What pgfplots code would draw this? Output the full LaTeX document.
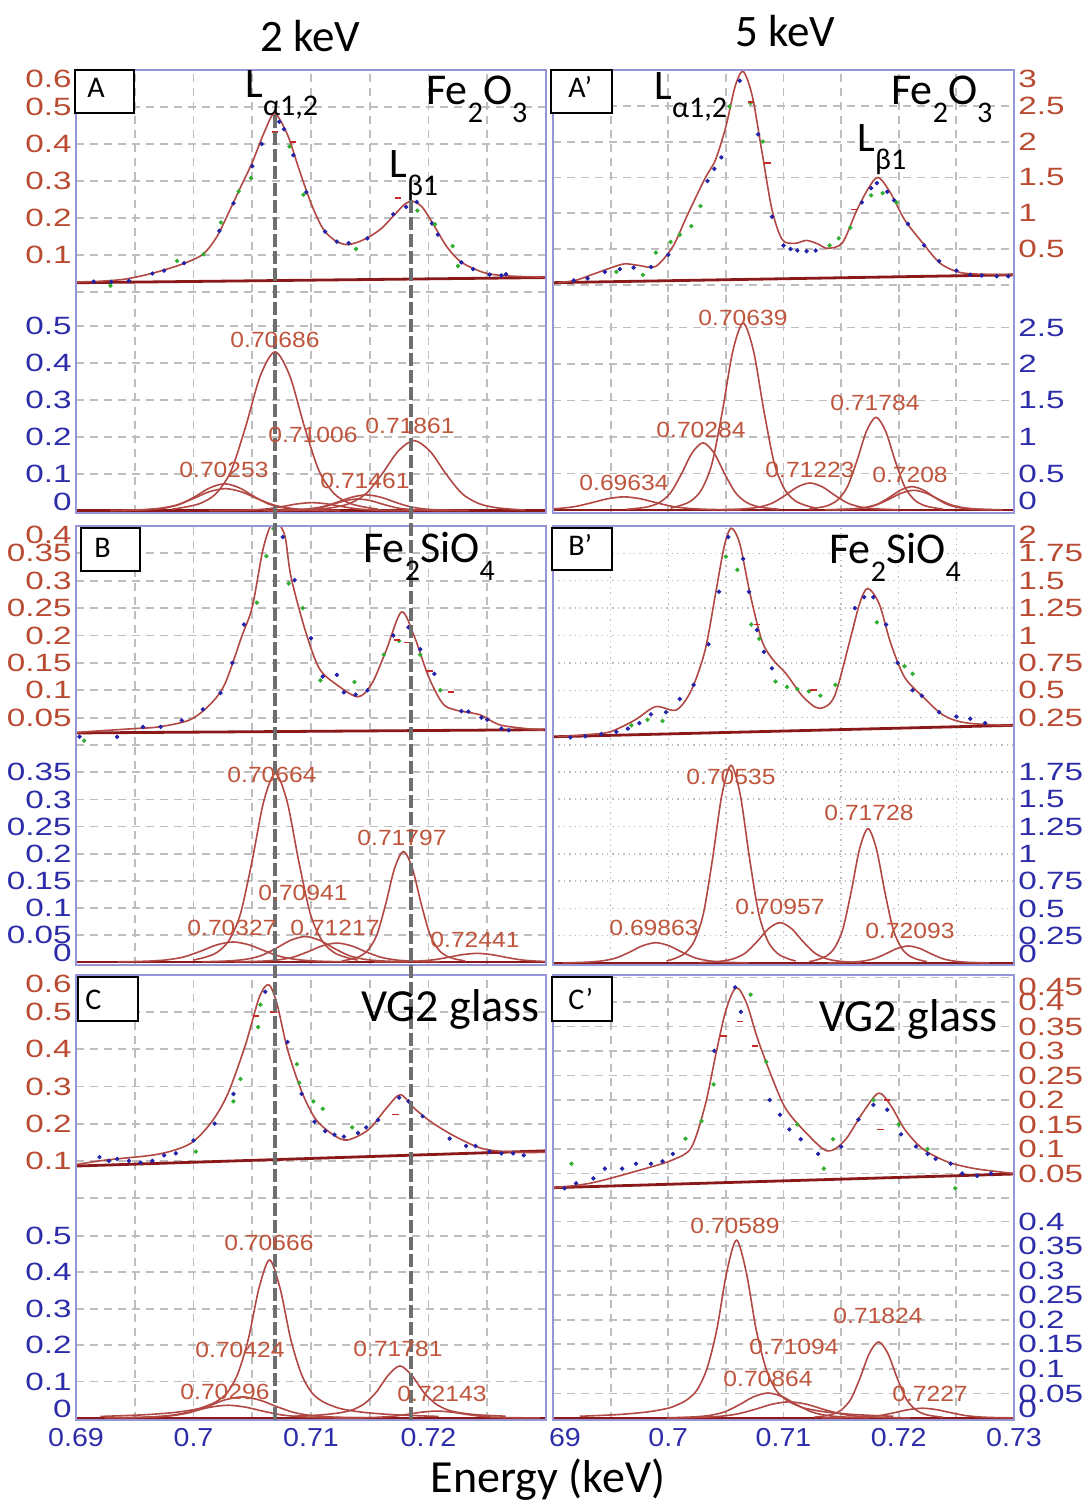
\documentclass[border=0pt]{standalone}
\usepackage{fontspec}
\setmainfont{Carlito}
\newfontfamily\tickfam[FakeStretch=1.33]{Liberation Sans}
\newfontfamily\xtickfam[FakeStretch=1.1]{Liberation Sans}
\newfontfamily\peakfam[FakeStretch=1.12]{Liberation Sans}
\usepackage{pgfplots}
\pgfplotsset{compat=1.18}

\definecolor{fitred}{RGB}{178,72,68}
\definecolor{basered}{RGB}{140,25,25}
\definecolor{dotblue}{RGB}{35,35,170}
\definecolor{dotgreen}{RGB}{50,175,50}
\definecolor{dotred}{RGB}{200,40,40}
\definecolor{gridc}{RGB}{190,190,190}
\definecolor{framec}{RGB}{150,150,215}
\definecolor{brownlab}{RGB}{185,75,50}
\definecolor{bluelab}{RGB}{45,45,170}
\definecolor{peakc}{RGB}{190,85,60}
\definecolor{dashc}{RGB}{110,110,110}

\newcommand\lsub[1]{\raisebox{-9pt}{\fontsize{15}{15}\selectfont #1}}

\pgfplotsset{
  pane/.style={scale only axis, xmin=0.69, xmax=0.73,
    axis line style={draw=none}, major tick length=0pt,
    xtick={0.69,0.695,0.7,0.705,0.71,0.715,0.72,0.725,0.73},
    xticklabels={},
    grid=major,
    major grid style={draw=gridc, line width=0.9pt, dash pattern=on 4pt off 3pt},
    yticklabel style={font=\tickfam\fontsize{12.5}{13}\selectfont, inner xsep=2pt},
    xticklabel style={font=\xtickfam\fontsize{13}{14}\selectfont, text=bluelab, inner ysep=4pt},
  },
  L/.style={pane, width=235pt, ytick pos=left},
  R/.style={pane, width=230.5pt, ytick pos=right, yticklabel pos=right},
  top/.style={yticklabel style={text=brownlab}},
  bot/.style={yticklabel style={text=bluelab}},
  % topmost label of an upper pane sits a little lower, the 0 of a lower pane a little higher
  toplab/.style 2 args={extra y ticks={#1}, extra y tick labels={#2},
    extra y tick style={grid=major, yticklabel style={yshift=-4.5pt}}},
  zerolab/.style={extra y ticks={0}, extra y tick labels={0},
    extra y tick style={grid=major, yticklabel style={yshift=4.5pt}}},
  fit/.style={draw=fitred, line width=0.8pt, smooth, no markers},
  comp/.style={draw=fitred, line width=0.8pt, smooth, no markers},
  base/.style={draw=basered, line width=1.4pt, no markers},
  bd/.style={only marks, color=dotblue, mark=*, mark size=0.9pt},
  gd/.style={only marks, color=dotgreen, mark=*, mark size=0.9pt},
  rd/.style={only marks, color=dotred, mark=-, mark size=1.6pt, mark options={line width=0.8pt}},
}

\begin{document}
\begin{tikzpicture}
\path[use as bounding box] (0,0) rectangle (544.5pt,-751pt);

% ================= A (2 keV) =================
\begin{axis}[L, top, at={(38pt,-146pt)}, anchor=south west, height=111pt,
  ymin=0, ymax=0.6, ytick={0,0.1,0.2,0.3,0.4,0.5}, yticklabels={,0.1,0.2,0.3,0.4,0.5}, toplab={0.6}{0.6}]
\addplot[base] coordinates {(0.69,0.025) (0.73,0.039)};
\addplot[fit] coordinates {(0.690,0.027) (0.692,0.029) (0.694,0.034) (0.6955,0.043) (0.697,0.055) (0.699,0.075) (0.7008,0.102) (0.702,0.150) (0.703,0.215) (0.704,0.283) (0.705,0.350) (0.706,0.430) (0.7069,0.482) (0.708,0.425) (0.709,0.330) (0.710,0.240) (0.711,0.172) (0.712,0.140) (0.713,0.128) (0.714,0.135) (0.715,0.150) (0.716,0.172) (0.717,0.205) (0.718,0.238) (0.7187,0.245) (0.7195,0.228) (0.7205,0.178) (0.7215,0.125) (0.7225,0.088) (0.7235,0.068) (0.725,0.050) (0.727,0.043) (0.730,0.040)};
\addplot[bd] coordinates {(0.6915,0.028) (0.6930,0.027) (0.6945,0.03) (0.6965,0.05) (0.6975,0.058) (0.6992,0.078) (0.7022,0.165) (0.7034,0.24) (0.7050,0.34) (0.7058,0.4) (0.7073,0.46) (0.7077,0.44) (0.7085,0.37) (0.7096,0.27) (0.7112,0.163) (0.7122,0.136) (0.7132,0.132) (0.7148,0.145) (0.7170,0.21) (0.7181,0.23) (0.7190,0.243) (0.7203,0.185) (0.7208,0.155) (0.7228,0.08) (0.7238,0.062) (0.7252,0.047) (0.7262,0.045) (0.7266,0.048)};
\addplot[gd] coordinates {(0.69294,0.017) (0.6986,0.084) (0.70085,0.102) (0.70234,0.188) (0.70384,0.272) (0.70489,0.308) (0.70817,0.393) (0.70936,0.263) (0.71383,0.116) (0.71906,0.22) (0.72055,0.183) (0.72205,0.124) (0.72251,0.07)};
\addplot[rd] coordinates {(0.7174,0.254) (0.70694,0.433) (0.70847,0.406)};
\end{axis}

\begin{axis}[L, bot, at={(38pt,-256.5pt)}, anchor=south west, height=110.5pt,
  ymin=-0.006, ymax=0.592, ytick={0.1,0.2,0.3,0.4,0.5}, yticklabels={0.1,0.2,0.3,0.4,0.5}, zerolab]
\addplot[base] coordinates {(0.69,0) (0.73,0)};
\addplot[comp] coordinates {(0.69390,0.0007) (0.69515,0.0018) (0.69640,0.0037) (0.69765,0.0080) (0.69890,0.0183) (0.70015,0.0387) (0.70140,0.0621) (0.70265,0.0730) (0.70390,0.0621) (0.70515,0.0387) (0.70640,0.0183) (0.70765,0.0080) (0.70890,0.0037) (0.71015,0.0018) (0.71140,0.0007)};
\addplot[comp] coordinates {(0.6929,0.0006) (0.6943,0.0015) (0.6957,0.003) (0.6971,0.0066) (0.6985,0.015) (0.6999,0.0318) (0.7013,0.051) (0.7027,0.06) (0.7041,0.051) (0.7055,0.0318) (0.7069,0.015) (0.7083,0.0066) (0.7097,0.003) (0.7111,0.0015) (0.7125,0.0006)};
\addplot[comp] coordinates {(0.69819,0.0043) (0.69944,0.0108) (0.70069,0.0215) (0.70194,0.0473) (0.70319,0.1075) (0.70444,0.2279) (0.70569,0.3655) (0.70694,0.43) (0.70819,0.3655) (0.70944,0.2279) (0.71069,0.1075) (0.71194,0.0473) (0.71319,0.0215) (0.71444,0.0108) (0.71569,0.0043)};
\addplot[comp] coordinates {(0.70135,0.0002) (0.7026,0.0006) (0.70385,0.0011) (0.7051,0.0024) (0.70635,0.0055) (0.7076,0.0117) (0.70885,0.0187) (0.7101,0.022) (0.71135,0.0187) (0.7126,0.0117) (0.71385,0.0055) (0.7151,0.0024) (0.71635,0.0011) (0.7176,0.0006) (0.71885,0.0002)};
\addplot[comp] coordinates {(0.70595,0.0004) (0.7072,0.0011) (0.70845,0.0022) (0.7097,0.0047) (0.71095,0.0108) (0.7122,0.0228) (0.71345,0.0366) (0.7147,0.043) (0.71595,0.0366) (0.7172,0.0228) (0.71845,0.0108) (0.7197,0.0047) (0.72095,0.0022) (0.7222,0.0011) (0.72345,0.0004)};
\addplot[comp] coordinates {(0.7063,0.0003) (0.7074,0.0008) (0.7085,0.0016) (0.7096,0.0035) (0.7107,0.008) (0.7118,0.017) (0.7129,0.0272) (0.714,0.032) (0.7151,0.0272) (0.7162,0.017) (0.7173,0.008) (0.7184,0.0035) (0.7195,0.0016) (0.7206,0.0008) (0.7217,0.0003)};
\addplot[comp] coordinates {(0.70932,0.0019) (0.71067,0.0048) (0.71202,0.0095) (0.71337,0.0209) (0.71472,0.0475) (0.71607,0.1007) (0.71742,0.1615) (0.71877,0.19) (0.72012,0.1615) (0.72147,0.1007) (0.72282,0.0475) (0.72417,0.0209) (0.72552,0.0095) (0.72687,0.0048) (0.72822,0.0019)};
\end{axis}

% ================= A' (5 keV) =================
\begin{axis}[R, top, at={(276.5pt,-146pt)}, anchor=south west, height=111pt,
  ymin=-0.1, ymax=3, ytick={0,0.5,1,1.5,2,2.5}, yticklabels={,0.5,1,1.5,2,2.5}, toplab={3}{3}]
\addplot[base] coordinates {(0.69,0.03) (0.73,0.14)};
\addplot[fit] coordinates {(0.6904,0.032) (0.6919,0.06) (0.6935,0.15) (0.69495,0.233) (0.6962,0.293) (0.6975,0.27) (0.6989,0.256) (0.7004,0.535) (0.7016,0.954) (0.7032,1.49) (0.7041,1.746) (0.7050,2.21) (0.7058,2.77) (0.7065,2.98) (0.7073,2.63) (0.7081,1.885) (0.7090,1.05) (0.7099,0.63) (0.7110,0.58) (0.7120,0.62) (0.7130,0.57) (0.7138,0.51) (0.7151,0.585) (0.7163,1.02) (0.7173,1.33) (0.7182,1.50) (0.7193,1.28) (0.7205,0.91) (0.7221,0.58) (0.7236,0.30) (0.7254,0.17) (0.7280,0.145) (0.7300,0.14)};
\addplot[bd] coordinates {(0.6918,0.06) (0.6930,0.09) (0.6945,0.18) (0.6958,0.22) (0.6970,0.24) (0.6985,0.25) (0.7000,0.42) (0.7034,1.45) (0.7040,1.62) (0.7046,1.78) (0.7062,2.85) (0.7078,2.1) (0.7090,0.95) (0.7100,0.55) (0.7106,0.50) (0.7112,0.48) (0.7120,0.47) (0.7128,0.48) (0.7168,1.15) (0.7176,1.35) (0.7181,1.42) (0.7190,1.3) (0.7196,1.18) (0.7208,0.85) (0.7222,0.55) (0.7235,0.33) (0.7250,0.2) (0.7262,0.14) (0.7272,0.13) (0.7285,0.12) (0.7295,0.12)};
\addplot[gd] coordinates {(0.6955,0.18) (0.6978,0.14) (0.69892,0.45) (0.7002,0.6) (0.7010,0.7) (0.7020,0.82) (0.7028,1.1) (0.70532,2.49) (0.70714,2.54) (0.7082,2.0) (0.7140,0.55) (0.7148,0.65) (0.7158,0.8) (0.7176,1.25) (0.7186,1.28) (0.7198,1.15)};
\addplot[rd] coordinates {(0.7086,1.7) (0.7161,1.05) (0.7072,2.55)};
\end{axis}

\begin{axis}[R, bot, at={(276.5pt,-256.5pt)}, anchor=south west, height=110.5pt,
  ymin=-0.041, ymax=2.986, ytick={0.5,1,1.5,2,2.5}, yticklabels={0.5,1,1.5,2,2.5}, zerolab]
\addplot[base] coordinates {(0.69,0) (0.73,0)};
\addplot[comp] coordinates {(0.68601,0.0018) (0.68746,0.0045) (0.68891,0.009) (0.69036,0.0198) (0.69181,0.045) (0.69326,0.0954) (0.69471,0.153) (0.69616,0.18) (0.69761,0.153) (0.69906,0.0954) (0.70051,0.045) (0.70196,0.0198) (0.70341,0.009) (0.70486,0.0045) (0.70631,0.0018)};
\addplot[comp] coordinates {(0.69637,0.0092) (0.69732,0.023) (0.69827,0.046) (0.69922,0.1012) (0.70017,0.23) (0.70112,0.4876) (0.70207,0.782) (0.70302,0.92) (0.70397,0.782) (0.70492,0.4876) (0.70587,0.23) (0.70682,0.1012) (0.70777,0.046) (0.70872,0.023) (0.70967,0.0092)};
\addplot[comp] coordinates {(0.7002,0.0256) (0.7011,0.064) (0.702,0.128) (0.7029,0.2816) (0.7038,0.64) (0.7047,1.3568) (0.7056,2.176) (0.7065,2.56) (0.7074,2.176) (0.7083,1.3568) (0.7092,0.64) (0.7101,0.2816) (0.711,0.128) (0.7119,0.064) (0.7128,0.0256)};
\addplot[comp] coordinates {(0.7046,0.0037) (0.7057,0.0093) (0.7068,0.0185) (0.7079,0.0407) (0.709,0.0925) (0.7101,0.1961) (0.7112,0.3145) (0.7123,0.37) (0.7134,0.3145) (0.7145,0.1961) (0.7156,0.0925) (0.7167,0.0407) (0.7178,0.0185) (0.7189,0.0093) (0.72,0.0037)};
\addplot[comp] coordinates {(0.71222,0.0127) (0.71305,0.0318) (0.71388,0.0635) (0.71471,0.1397) (0.71554,0.3175) (0.71637,0.6731) (0.7172,1.0795) (0.71803,1.27) (0.71886,1.0795) (0.71969,0.6731) (0.72052,0.3175) (0.72135,0.1397) (0.72218,0.0635) (0.72301,0.0318) (0.72384,0.0127)};
\addplot[comp] coordinates {(0.71415,0.0032) (0.71515,0.008) (0.71615,0.016) (0.71715,0.0352) (0.71815,0.08) (0.71915,0.1696) (0.72015,0.272) (0.72115,0.32) (0.72215,0.272) (0.72315,0.1696) (0.72415,0.08) (0.72515,0.0352) (0.72615,0.016) (0.72715,0.008) (0.72815,0.0032)};
\addplot[comp] coordinates {(0.7136,0.0027) (0.7147,0.0068) (0.7158,0.0135) (0.7169,0.0297) (0.718,0.0675) (0.7191,0.1431) (0.7202,0.2295) (0.7213,0.27) (0.7224,0.2295) (0.7235,0.1431) (0.7246,0.0675) (0.7257,0.0297) (0.7268,0.0135) (0.7279,0.0068) (0.729,0.0027)};
\end{axis}

% ================= B (2 keV) =================
\begin{axis}[L, top, at={(38pt,-372.5pt)}, anchor=south west, height=109.5pt,
  ymin=0, ymax=0.4, ytick={0,0.05,0.1,0.15,0.2,0.25,0.3,0.35}, yticklabels={,0.05,0.1,0.15,0.2,0.25,0.3,0.35}, toplab={0.4}{0.4}]
\addplot[base] coordinates {(0.69,0.022) (0.73,0.028)};
\addplot[fit] coordinates {(0.6900,0.022) (0.6907,0.024) (0.6950,0.030) (0.6970,0.033) (0.6997,0.046) (0.7015,0.076) (0.7027,0.113) (0.7041,0.198) (0.7050,0.252) (0.7059,0.356) (0.7066,0.402) (0.7072,0.405) (0.7078,0.38) (0.7083,0.307) (0.7095,0.210) (0.7107,0.140) (0.7122,0.110) (0.7140,0.088) (0.7152,0.113) (0.7164,0.173) (0.7177,0.243) (0.7188,0.198) (0.7200,0.125) (0.7212,0.076) (0.7223,0.064) (0.7244,0.055) (0.7262,0.036) (0.7298,0.027)};
\addplot[bd] coordinates {(0.6903,0.015) (0.6935,0.015) (0.6957,0.033) (0.6972,0.033) (0.6990,0.045) (0.7008,0.065) (0.7023,0.095) (0.7033,0.15) (0.7043,0.22) (0.7076,0.38) (0.70861,0.301) (0.7100,0.195) (0.7110,0.125) (0.7122,0.128) (0.7128,0.096) (0.7138,0.092) (0.7148,0.1) (0.7170,0.2) (0.7183,0.215) (0.7193,0.175) (0.7205,0.13) (0.7228,0.062) (0.7234,0.061) (0.7245,0.05) (0.7250,0.046) (0.7262,0.03) (0.72683,0.027)};
\addplot[gd] coordinates {(0.6907,0.008) (0.7054,0.26) (0.7062,0.345) (0.7068,0.395) (0.7081,0.295) (0.7093,0.25) (0.7108,0.118) (0.7137,0.115) (0.7162,0.165) (0.7175,0.19) (0.7193,0.165) (0.7210,0.1)};
\addplot[rd] coordinates {(0.7173,0.192) (0.7182,0.187) (0.7201,0.135) (0.7219,0.097)};
\end{axis}

\begin{axis}[L, bot, at={(38pt,-482.5pt)}, anchor=south west, height=110pt,
  ymin=-0.0055, ymax=0.4004, ytick={0.05,0.1,0.15,0.2,0.25,0.3,0.35}, yticklabels={0.05,0.1,0.15,0.2,0.25,0.3,0.35}, zerolab]
\addplot[base] coordinates {(0.69,0) (0.73,0)};
\addplot[comp] coordinates {(0.69356,0.0004) (0.69496,0.0009) (0.69636,0.0019) (0.69776,0.0041) (0.69916,0.0093) (0.70056,0.0196) (0.70196,0.0315) (0.70336,0.037) (0.70476,0.0315) (0.70616,0.0196) (0.70756,0.0093) (0.70896,0.0041) (0.71036,0.0019) (0.71176,0.0009) (0.71316,0.0004)};
\addplot[comp] coordinates {(0.69997,0.0035) (0.70097,0.0087) (0.70197,0.0174) (0.70297,0.0383) (0.70397,0.087) (0.70497,0.1844) (0.70597,0.2958) (0.70697,0.348) (0.70797,0.2958) (0.70897,0.1844) (0.70997,0.087) (0.71097,0.0383) (0.71197,0.0174) (0.71297,0.0087) (0.71397,0.0035)};
\addplot[comp] coordinates {(0.70075,0.0005) (0.702,0.0012) (0.70325,0.0024) (0.7045,0.0052) (0.70575,0.0118) (0.707,0.0249) (0.70825,0.04) (0.7095,0.047) (0.71075,0.04) (0.712,0.0249) (0.71325,0.0118) (0.7145,0.0052) (0.71575,0.0024) (0.717,0.0012) (0.71825,0.0005)};
\addplot[comp] coordinates {(0.70345,0.0004) (0.7047,0.0009) (0.70595,0.0018) (0.7072,0.0039) (0.70845,0.0088) (0.7097,0.0186) (0.71095,0.0298) (0.7122,0.035) (0.71345,0.0298) (0.7147,0.0186) (0.71595,0.0088) (0.7172,0.0039) (0.71845,0.0018) (0.7197,0.0009) (0.72095,0.0004)};
\addplot[comp] coordinates {(0.71262,0.002) (0.71337,0.0051) (0.71412,0.0102) (0.71487,0.0224) (0.71562,0.051) (0.71637,0.1081) (0.71712,0.1734) (0.71787,0.204) (0.71862,0.1734) (0.71937,0.1081) (0.72012,0.051) (0.72087,0.0224) (0.72162,0.0102) (0.72237,0.0051) (0.72312,0.002)};
\addplot[comp] coordinates {(0.71538,0.0002) (0.71663,0.0004) (0.71788,0.0008) (0.71913,0.0018) (0.72038,0.004) (0.72163,0.0085) (0.72288,0.0136) (0.72413,0.016) (0.72538,0.0136) (0.72663,0.0085) (0.72788,0.004) (0.72913,0.0018) (0.73038,0.0008)};
\end{axis}

% ================= B' (5 keV) =================
\begin{axis}[R, top, at={(276.5pt,-372.5pt)}, anchor=south west, height=109.5pt,
  major grid style={draw=gridc, line width=0.7pt, dotted},
  ymin=0, ymax=2, ytick={0,0.25,0.5,0.75,1,1.25,1.5,1.75}, yticklabels={,0.25,0.5,0.75,1,1.25,1.5,1.75}, toplab={2}{2}]
\addplot[base] coordinates {(0.69,0.075) (0.73,0.18)};
\addplot[fit] coordinates {(0.6904,0.076) (0.6930,0.095) (0.69495,0.12) (0.6971,0.228) (0.6989,0.35) (0.7007,0.32) (0.7020,0.50) (0.7032,0.867) (0.7041,1.38) (0.70485,1.81) (0.70545,1.98) (0.7062,1.84) (0.7071,1.38) (0.7081,0.96) (0.7090,0.79) (0.7102,0.654) (0.7117,0.44) (0.7131,0.335) (0.7144,0.44) (0.7157,0.93) (0.7166,1.29) (0.7173,1.43) (0.7183,1.29) (0.7193,0.93) (0.7205,0.62) (0.7221,0.44) (0.7239,0.27) (0.7260,0.20) (0.7303,0.175)};
\addplot[bd] coordinates {(0.6915,0.07) (0.6928,0.08) (0.6942,0.1) (0.6955,0.12) (0.6965,0.15) (0.6975,0.2) (0.6985,0.28) (0.6998,0.3) (0.7010,0.42) (0.7022,0.55) (0.7035,0.92) (0.7044,1.4) (0.7052,1.9) (0.7065,1.7) (0.7070,1.4) (0.7077,1.05) (0.7083,0.85) (0.7090,0.7) (0.7162,1.25) (0.7170,1.35) (0.7178,1.35) (0.7189,1.1) (0.7199,0.75) (0.7212,0.50) (0.7220,0.45) (0.7235,0.3) (0.7250,0.26) (0.7262,0.24) (0.7275,0.2)};
\addplot[gd] coordinates {(0.6968,0.18) (0.6982,0.23) (0.6995,0.22) (0.7050,1.72) (0.7060,1.6) (0.7072,1.1) (0.7079,0.97) (0.7093,0.58) (0.7103,0.53) (0.7112,0.51) (0.7122,0.49) (0.7132,0.45) (0.7145,0.55) (0.7181,1.12) (0.7205,0.72) (0.7212,0.65)};
\addplot[rd] coordinates {(0.7077,1.1) (0.7126,0.5)};
\end{axis}

\begin{axis}[R, bot, at={(276.5pt,-482.5pt)}, anchor=south west, height=110pt,
  major grid style={draw=gridc, line width=0.7pt, dotted},
  ymin=-0.018, ymax=1.996, ytick={0.25,0.5,0.75,1,1.25,1.5,1.75}, yticklabels={0.25,0.5,0.75,1,1.25,1.5,1.75}, zerolab]
\addplot[base] coordinates {(0.69,0) (0.73,0)};
\addplot[comp] coordinates {(0.69087,0.0019) (0.69202,0.0047) (0.69317,0.0093) (0.69432,0.0205) (0.69547,0.0465) (0.69662,0.0986) (0.69777,0.1581) (0.69892,0.186) (0.70007,0.1581) (0.70122,0.0986) (0.70237,0.0465) (0.70352,0.0205) (0.70467,0.0093) (0.70582,0.0047) (0.70697,0.0019)};
\addplot[comp] coordinates {(0.69985,0.0181) (0.70065,0.0453) (0.70145,0.0905) (0.70225,0.1991) (0.70305,0.4525) (0.70385,0.9593) (0.70465,1.5385) (0.70545,1.81) (0.70625,1.5385) (0.70705,0.9593) (0.70785,0.4525) (0.70865,0.1991) (0.70945,0.0905) (0.71025,0.0453) (0.71105,0.0181)};
\addplot[comp] coordinates {(0.7027,0.0037) (0.7037,0.0093) (0.7047,0.0185) (0.7057,0.0407) (0.7067,0.0925) (0.7077,0.1961) (0.7087,0.3145) (0.7097,0.37) (0.7107,0.3145) (0.7117,0.1961) (0.7127,0.0925) (0.7137,0.0407) (0.7147,0.0185) (0.7157,0.0093) (0.7167,0.0037)};
\addplot[comp] coordinates {(0.71222,0.0123) (0.71295,0.0308) (0.71368,0.0615) (0.71441,0.1353) (0.71514,0.3075) (0.71587,0.6519) (0.7166,1.0455) (0.71733,1.23) (0.71806,1.0455) (0.71879,0.6519) (0.71952,0.3075) (0.72025,0.1353) (0.72098,0.0615) (0.72171,0.0308) (0.72244,0.0123)};
\addplot[comp] coordinates {(0.71384,0.0016) (0.71484,0.0039) (0.71584,0.0078) (0.71684,0.0172) (0.71784,0.039) (0.71884,0.0827) (0.71984,0.1326) (0.72084,0.156) (0.72184,0.1326) (0.72284,0.0827) (0.72384,0.039) (0.72484,0.0172) (0.72584,0.0078) (0.72684,0.0039) (0.72784,0.0016)};
\end{axis}

% ================= C (2 keV) =================
\begin{axis}[L, top, at={(38pt,-599pt)}, anchor=south west, height=111.5pt,
  ymin=0, ymax=0.6, ytick={0,0.1,0.2,0.3,0.4,0.5}, yticklabels={,0.1,0.2,0.3,0.4,0.5}, toplab={0.6}{0.6}]
\addplot[base] coordinates {(0.69,0.086) (0.73,0.127)};
\addplot[fit] coordinates {(0.6900,0.090) (0.6925,0.102) (0.6970,0.118) (0.6997,0.146) (0.7015,0.203) (0.7029,0.279) (0.7044,0.410) (0.7056,0.540) (0.7064,0.574) (0.7071,0.523) (0.7080,0.400) (0.7092,0.287) (0.7104,0.212) (0.7119,0.170) (0.7131,0.156) (0.7149,0.184) (0.7164,0.241) (0.7176,0.278) (0.7188,0.241) (0.7203,0.203) (0.7223,0.165) (0.7247,0.132) (0.7277,0.123) (0.7300,0.123)};
\addplot[bd] coordinates {(0.6920,0.11) (0.6928,0.1) (0.6935,0.105) (0.6945,0.1) (0.6955,0.095) (0.6965,0.1) (0.6975,0.115) (0.6985,0.12) (0.7000,0.155) (0.7018,0.2) (0.7034,0.28) (0.7061,0.555) (0.7080,0.42) (0.7092,0.28) (0.7103,0.205) (0.7112,0.18) (0.7120,0.17) (0.7128,0.165) (0.7140,0.175) (0.7147,0.19) (0.7157,0.21) (0.7175,0.27) (0.7183,0.26) (0.7195,0.22) (0.7218,0.16) (0.7232,0.14) (0.7240,0.14) (0.7252,0.125) (0.7262,0.12) (0.7272,0.12) (0.7281,0.115)};
\addplot[gd] coordinates {(0.7002,0.125) (0.7034,0.26) (0.7040,0.32) (0.7055,0.46) (0.7057,0.52) (0.7088,0.36) (0.7090,0.31) (0.7102,0.26) (0.7110,0.24) (0.7135,0.19)};
\addplot[rd] coordinates {(0.7053,0.49) (0.7068,0.5) (0.7172,0.225)};
\end{axis}

\begin{axis}[L, bot, at={(38pt,-710pt)}, anchor=south west, height=111pt,
  ymin=-0.0055, ymax=0.604, ytick={0.1,0.2,0.3,0.4,0.5}, yticklabels={0.1,0.2,0.3,0.4,0.5}, zerolab,
  xticklabels={0.69,,0.7,,0.71,,0.72,,}]
\addplot[base] coordinates {(0.69,0) (0.73,0)};
\addplot[comp] coordinates {(0.69244,0.0004) (0.69394,0.0009) (0.69544,0.0018) (0.69694,0.0039) (0.69844,0.0088) (0.69994,0.0186) (0.70144,0.0298) (0.70294,0.035) (0.70444,0.0298) (0.70594,0.0186) (0.70744,0.0088) (0.70894,0.0039) (0.71044,0.0018) (0.71194,0.0009) (0.71344,0.0004)};
\addplot[comp] coordinates {(0.69363,0.0006) (0.69513,0.0015) (0.69663,0.0029) (0.69813,0.0064) (0.69963,0.0145) (0.70113,0.0307) (0.70263,0.0493) (0.70413,0.058) (0.70563,0.0493) (0.70713,0.0307) (0.70863,0.0145) (0.71013,0.0064) (0.71163,0.0029) (0.71313,0.0015) (0.71463,0.0006)};
\addplot[comp] coordinates {(0.69207,0.0043) (0.69567,0.0087) (0.69837,0.0152) (0.70017,0.0239) (0.70107,0.0326) (0.70197,0.0456) (0.70287,0.0694) (0.70377,0.1215) (0.70467,0.217) (0.70557,0.3559) (0.70647,0.434) (0.70737,0.3559) (0.70827,0.217) (0.70917,0.1215) (0.71007,0.0694) (0.71097,0.0456) (0.71187,0.0326) (0.71277,0.0239) (0.71457,0.0152) (0.71727,0.0087) (0.72087,0.0043)};
\addplot[comp] coordinates {(0.70857,0.005) (0.71057,0.0079) (0.71157,0.0107) (0.71257,0.015) (0.71357,0.0229) (0.71457,0.04) (0.71557,0.0715) (0.71657,0.1173) (0.71757,0.143) (0.71857,0.1173) (0.71957,0.0715) (0.72057,0.04) (0.72157,0.0229) (0.72257,0.015) (0.72357,0.0107) (0.72457,0.0079) (0.72657,0.005)};
\addplot[comp] coordinates {(0.71196,0.0002) (0.71321,0.0005) (0.71446,0.001) (0.71571,0.0021) (0.71696,0.0048) (0.71821,0.0101) (0.71946,0.0162) (0.72071,0.019) (0.72196,0.0162) (0.72321,0.0101) (0.72446,0.0048) (0.72571,0.0021) (0.72696,0.001) (0.72821,0.0005) (0.72946,0.0002)};
\end{axis}

% ================= C' (5 keV) =================
\begin{axis}[R, top, at={(276.5pt,-599pt)}, anchor=south west, height=111.5pt,
  ymin=0, ymax=0.455, ytick={0,0.05,0.1,0.15,0.2,0.25,0.3,0.35,0.4}, yticklabels={,0.05,0.1,0.15,0.2,0.25,0.3,0.35,0.4}, toplab={0.45}{0.45}]
\addplot[base] coordinates {(0.69,0.021) (0.73,0.049)};
\addplot[fit] coordinates {(0.6901,0.021) (0.6934,0.031) (0.6980,0.060) (0.7004,0.078) (0.7020,0.103) (0.7032,0.189) (0.7041,0.290) (0.7050,0.383) (0.7059,0.429) (0.7068,0.397) (0.70775,0.325) (0.7090,0.246) (0.7102,0.182) (0.7120,0.132) (0.7138,0.096) (0.7153,0.117) (0.7169,0.175) (0.71825,0.214) (0.7193,0.189) (0.72055,0.139) (0.7221,0.100) (0.7242,0.074) (0.7266,0.060) (0.7300,0.050)};
\addplot[bd] coordinates {(0.6910,0.02) (0.6920,0.03) (0.6935,0.04) (0.6945,0.06) (0.6960,0.06) (0.6972,0.07) (0.6985,0.07) (0.6995,0.075) (0.7004,0.09) (0.7040,0.3) (0.7058,0.43) (0.7063,0.38) (0.7088,0.2) (0.7097,0.17) (0.7105,0.14) (0.7115,0.12) (0.7130,0.09) (0.7150,0.105) (0.7165,0.16) (0.7178,0.19) (0.7190,0.18) (0.7202,0.13) (0.7215,0.105) (0.7225,0.09) (0.7232,0.08) (0.7245,0.07) (0.7255,0.05) (0.7268,0.045) (0.7280,0.05)};
\addplot[gd] coordinates {(0.6916,0.07) (0.7015,0.121) (0.70288,0.157) (0.70394,0.232) (0.70714,0.415) (0.7085,0.278) (0.7112,0.15) (0.7135,0.06) (0.7143,0.12) (0.7178,0.2) (0.7200,0.15) (0.7225,0.1) (0.7249,0.02)};
\addplot[rd] coordinates {(0.7048,0.33) (0.7062,0.36) (0.7075,0.31) (0.7184,0.14) (0.7190,0.2)};
\end{axis}

\begin{axis}[R, bot, at={(276.5pt,-710pt)}, anchor=south west, height=111pt,
  ymin=-0.004, ymax=0.448, ytick={0.05,0.1,0.15,0.2,0.25,0.3,0.35,0.4}, yticklabels={0.05,0.1,0.15,0.2,0.25,0.3,0.35,0.4}, zerolab,
  xticklabels={{\phantom{0.}69},,0.7,,0.71,,0.72,,0.73}]
\addplot[base] coordinates {(0.69,0) (0.73,0)};
\addplot[comp] coordinates {(0.69232,0.0036) (0.69572,0.0072) (0.69827,0.0127) (0.69997,0.0199) (0.70082,0.0272) (0.70167,0.038) (0.70252,0.0579) (0.70337,0.1014) (0.70422,0.181) (0.70507,0.2968) (0.70592,0.362) (0.70677,0.2968) (0.70762,0.181) (0.70847,0.1014) (0.70932,0.0579) (0.71017,0.038) (0.71102,0.0272) (0.71187,0.0199) (0.71357,0.0127) (0.71612,0.0072) (0.71952,0.0036)};
\addplot[comp] coordinates {(0.69991,0.0005) (0.70116,0.0013) (0.70241,0.0026) (0.70366,0.0056) (0.70491,0.0128) (0.70616,0.027) (0.70741,0.0434) (0.70866,0.051) (0.70991,0.0434) (0.71116,0.027) (0.71241,0.0128) (0.71366,0.0056) (0.71491,0.0026) (0.71616,0.0013) (0.71741,0.0005)};
\addplot[comp] coordinates {(0.7,0.0003) (0.7015,0.0008) (0.703,0.0017) (0.7045,0.0036) (0.706,0.0083) (0.7075,0.0175) (0.709,0.0281) (0.7105,0.033) (0.712,0.0281) (0.7135,0.0175) (0.715,0.0083) (0.7165,0.0036) (0.718,0.0017) (0.7195,0.0008) (0.721,0.0003)};
\addplot[comp] coordinates {(0.71265,0.0016) (0.71345,0.0039) (0.71425,0.0078) (0.71505,0.0171) (0.71585,0.0388) (0.71665,0.0822) (0.71745,0.1318) (0.71825,0.155) (0.71905,0.1318) (0.71985,0.0822) (0.72065,0.0388) (0.72145,0.0171) (0.72225,0.0078) (0.72305,0.0039) (0.72385,0.0016)};
\addplot[comp] coordinates {(0.71331,0.0002) (0.71456,0.0005) (0.71581,0.001) (0.71706,0.0022) (0.71831,0.005) (0.71956,0.0106) (0.72081,0.017) (0.72206,0.02) (0.72331,0.017) (0.72456,0.0106) (0.72581,0.005) (0.72706,0.0022) (0.72831,0.001) (0.72956,0.0005) (0.73081,0.0002)};
\end{axis}

% ================= annotations (pixel grid, origin top left) =================
\begin{scope}[x=0.5pt, y=-0.5pt]
  % frames
  \foreach \ya/\yb in {70/513, 526/965, 975/1420} {
    \draw[framec, line width=0.75pt] (76,\ya) rectangle (546,\yb);
    \draw[framec, line width=0.75pt] (553,\ya) rectangle (1014,\yb);
  }
  % dashed guide lines
  \draw[dashc, line width=1.7pt, dash pattern=on 6.5pt off 2pt] (275,115) -- (275,1420);
  \draw[dashc, line width=1.7pt, dash pattern=on 6.5pt off 2pt] (411,200) -- (411,1420);

  % panel boxes
  \tikzset{lbox/.style={draw=black, line width=1pt, fill=white},
           ltr/.style={anchor=base west, inner sep=0, font=\fontsize{15}{16}\selectfont}}
  \draw[lbox] (75,70) rectangle (134,113);   \node[ltr] at (87,98) {A};
  \draw[lbox] (551,70) rectangle (612,113);  \node[ltr] at (568,98) {A’};
  \draw[lbox] (81,528) rectangle (140,571);  \node[ltr] at (94,557) {B};
  \draw[lbox] (552,528) rectangle (612,570); \node[ltr] at (568,555) {B’};
  \draw[lbox] (78,977) rectangle (138,1021); \node[ltr] at (85,1009) {C};
  \draw[lbox] (552,977) rectangle (612,1021);\node[ltr] at (568,1009) {C’};

  % black labels
  \tikzset{big/.style={anchor=base west, inner sep=0, font=\fontsize{21}{23}\selectfont}}
  \node[anchor=base west, inner sep=0, font=\fontsize{22.5}{24}\selectfont] at (260,52) {2 keV};
  \node[anchor=base west, inner sep=0, font=\fontsize{22.5}{24}\selectfont] at (735,47) {5 keV};
  \node[anchor=base, inner sep=0, font=\fontsize{23}{25}\selectfont] at (548,1492) {Energy (keV)};
  \node[big] at (245,98) {L\lsub{α1,2}};
  \node[big] at (389,178) {L\lsub{β1}};
  \node[big] at (654,100) {L\lsub{α1,2}};
  \node[big] at (857,152) {L\lsub{β1}};
  \node[big, font=\fontsize{22}{24}\selectfont] at (426,105) {Fe\lsub{2}O\lsub{3}};
  \node[big, font=\fontsize{22}{24}\selectfont] at (891,105) {Fe\lsub{2}O\lsub{3}};
  \node[big, font=\fontsize{22}{24}\selectfont] at (363,562) {Fe\lsub{2}SiO\lsub{4}};
  \node[big, font=\fontsize{22}{24}\selectfont] at (829,563) {Fe\lsub{2}SiO\lsub{4}};
  \node[big, font=\fontsize{23}{25}\selectfont] at (361,1021) {VG2 glass};
  \node[big, font=\fontsize{23}{25}\selectfont] at (819,1031) {VG2 glass};

  % peak position labels
  \tikzset{pk/.style={inner sep=0, text=peakc, font=\peakfam\fontsize{11}{12}\selectfont}}
  \node[pk] at (275,340) {0.70686};
  \node[pk] at (313,435) {0.71006};
  \node[pk] at (410,426) {0.71861};
  \node[pk] at (224,470) {0.70253};
  \node[pk] at (365,481) {0.71461};
  \node[pk] at (743,318) {0.70639};
  \node[pk] at (701,430) {0.70284};
  \node[pk] at (624,483) {0.69634};
  \node[pk] at (810,470) {0.71223};
  \node[pk] at (875,403) {0.71784};
  \node[pk] at (910,475) {0.7208};
  \node[pk] at (272,775) {0.70664};
  \node[pk] at (402,838) {0.71797};
  \node[pk] at (303,893) {0.70941};
  \node[pk] at (232,928) {0.70327};
  \node[pk] at (335,928) {0.71217};
  \node[pk] at (475,940) {0.72441};
  \node[pk] at (731,777) {0.70535};
  \node[pk] at (869,813) {0.71728};
  \node[pk] at (780,907) {0.70957};
  \node[pk] at (654,928) {0.69863};
  \node[pk] at (910,931) {0.72093};
  \node[pk] at (269,1243) {0.70666};
  \node[pk] at (240,1350) {0.70424};
  \node[pk] at (398,1349) {0.71781};
  \node[pk] at (225,1392) {0.70296};
  \node[pk] at (442,1394) {0.72143};
  \node[pk] at (735,1226) {0.70589};
  \node[pk] at (878,1316) {0.71824};
  \node[pk] at (794,1347) {0.71094};
  \node[pk] at (768,1379) {0.70864};
  \node[pk] at (930,1394) {0.7227};
\end{scope}
\end{tikzpicture}
\end{document}
